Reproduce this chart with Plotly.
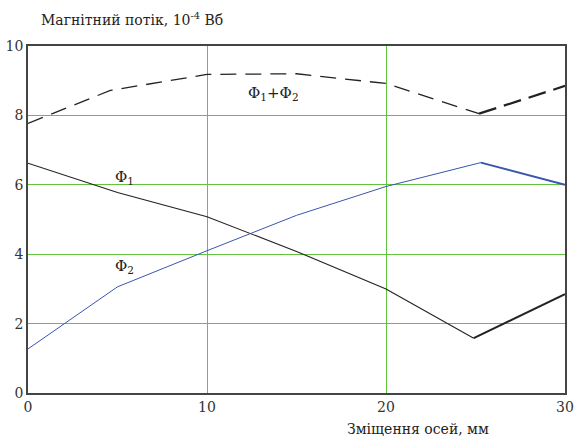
import plotly.graph_objects as go

# Data (displacement of axes, mm ; magnetic flux, 1e-4 Wb)
x_phi1 = [0, 5, 10, 15, 20, 24.9, 30]
phi1 = [6.62, 5.78, 5.08, 4.08, 3.0, 1.58, 2.85]

x_phi2 = [0, 5, 10, 15, 20, 25.3, 30]
phi2 = [1.27, 3.06, 4.1, 5.12, 5.95, 6.64, 6.0]

x_sum = [0, 4.6, 10, 15, 20, 25.2, 30]
phi_sum = [7.77, 8.72, 9.18, 9.2, 8.92, 8.05, 8.85]

x_ticks = [0, 10, 20, 30]
y_ticks = [0, 2, 4, 6, 8, 10]

labels = ["Φ<sub>1</sub>+Φ<sub>2</sub>", "Φ<sub>1</sub>", "Φ<sub>2</sub>"]
label_x = [13.7, 5.4, 5.4]
label_y = [8.62, 6.22, 3.66]

SERIF = "DejaVu Serif"
GRID = "#62c43e"

fig = go.Figure()


def add_series(xs, ys, split, color, dash1, dash2, w1, w2):
    fig.add_trace(go.Scatter(x=xs[:split + 1], y=ys[:split + 1], mode="lines",
                             line=dict(color=color, width=w1, dash=dash1),
                             showlegend=False, hoverinfo="skip"))
    fig.add_trace(go.Scatter(x=xs[split:], y=ys[split:], mode="lines",
                             line=dict(color=color, width=w2, dash=dash2),
                             showlegend=False, hoverinfo="skip"))


add_series(x_sum, phi_sum, 5, "#222222", "16px,9px", "18px,8px", 1.3, 2.2)
add_series(x_phi1, phi1, 5, "#222222", "solid", "solid", 1.1, 2.0)
add_series(x_phi2, phi2, 5, "#3a55b0", "solid", "solid", 1.0, 1.8)

for t, xx, yy in zip(labels, label_x, label_y):
    fig.add_annotation(x=xx, y=yy, text=t, showarrow=False,
                       font=dict(family=SERIF, size=15, color="#222222"))

fig.add_annotation(xref="paper", yref="paper", x=0.02, y=1.0, yshift=16,
                   xanchor="left", yanchor="bottom", showarrow=False,
                   text="Магнітний потік, 10<sup>-4</sup> Вб",
                   font=dict(family=SERIF, size=14, color="#222222"))
fig.add_annotation(xref="paper", yref="paper", x=0.726, y=0, yshift=-26,
                   xanchor="center", yanchor="top", showarrow=False,
                   text="Зміщення осей, мм",
                   font=dict(family=SERIF, size=14, color="#222222"))

fig.update_xaxes(range=[0, 30], tickvals=x_ticks, showgrid=True, automargin=False,
                 gridcolor=GRID, gridwidth=1.2, zeroline=False,
                 showline=True, linecolor="#444444", linewidth=1.5, mirror=True,
                 tickfont=dict(family=SERIF, size=14, color="#333333"), ticks="",
                 ticklabeloverflow="allow")
fig.update_yaxes(range=[0, 10], tickvals=y_ticks, showgrid=True, automargin=False,
                 gridcolor=GRID, gridwidth=1.2, zeroline=False,
                 showline=True, linecolor="#444444", linewidth=1.5, mirror=True,
                 tickfont=dict(family=SERIF, size=14, color="#333333"), ticks="",
                 ticklabelstandoff=0, ticklabeloverflow="allow")

fig.update_layout(width=574, height=437, plot_bgcolor="white", paper_bgcolor="white",
                  margin=dict(l=28, r=9, t=46, b=44), showlegend=False)

fig.write_html("out.html",
               config={"displayModeBar": False},
               post_script="document.body.style.margin='0';"
                           "document.body.style.overflow='hidden';")
